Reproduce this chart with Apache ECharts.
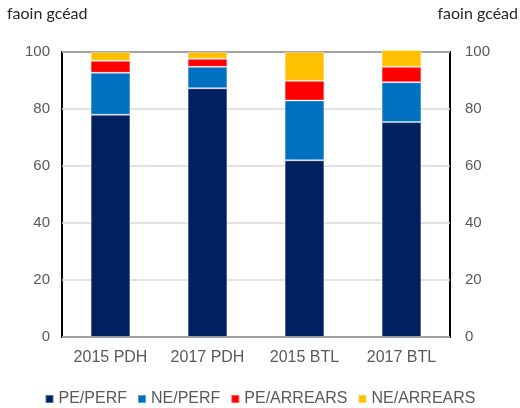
<!DOCTYPE html>
<html>
<head>
<meta charset="utf-8">
<script src="https://cdn.jsdelivr.net/npm/echarts@6/dist/echarts.min.js"></script>
<style>
  html, body { margin: 0; padding: 0; background: #fff; }
  #chart { width: 520px; height: 408px; }
</style>
</head>
<body>
<div id="chart"></div>
<script>
const categories = ['2015 PDH', '2017 PDH', '2015 BTL', '2017 BTL'];
const pePerf = [78, 87.3, 62, 75.4];
const nePerf = [14.7, 7.5, 21, 14];
const peArrears = [4.2, 2.8, 6.9, 5.4];
const neArrears = [3.1, 2.4, 10.1, 5.9];
const yTicks = [0, 20, 40, 60, 80, 100];
const unitLabel = 'faoin gcéad';

const font = 'Liberation Sans, Arial, sans-serif';
const xFont = { color: '#595959', fontSize: 16, fontFamily: font };
const yFont = { color: '#595959', fontSize: 15, fontFamily: font };

const mkSeries = (name, data, color) => ({
  name,
  type: 'bar',
  stack: 'total',
  data,
  barWidth: '41%',
  clip: false,
  itemStyle: { color, borderColor: 'rgba(255,255,255,0.35)', borderWidth: 1 }
});

const yAxisBase = {
  type: 'value',
  min: yTicks[0],
  max: yTicks[yTicks.length - 1],
  interval: 20,
  axisLine: { show: false },
  axisTick: { show: false }
};

let option = {
  animation: false,
  grid: {
    left: 62, right: 70, top: 52, bottom: 71,
    show: true, borderColor: '#000', borderWidth: 2, backgroundColor: 'transparent'
  },
  graphic: [
    { type: 'text', left: 7, top: 6, style: { text: unitLabel, fill: '#262626', font: '16px Lato, sans-serif' } },
    { type: 'text', right: 2, top: 6, style: { text: unitLabel, fill: '#262626', font: '16px Lato, sans-serif' } }
  ],
  legend: {
    bottom: 1,
    left: 'center',
    padding: 0,
    icon: 'rect',
    itemWidth: 8,
    itemHeight: 8,
    itemGap: 10,
    textStyle: xFont
  },
  xAxis: {
    type: 'category',
    data: categories,
    axisLine: { show: false },
    axisTick: { show: false },
    axisLabel: Object.assign({ margin: 13 }, xFont)
  },
  yAxis: [
    Object.assign({}, yAxisBase, {
      position: 'left',
      splitLine: { show: true, lineStyle: { color: '#d9d9d9', width: 1.5 } },
      axisLabel: Object.assign({ margin: 12 }, yFont)
    }),
    Object.assign({}, yAxisBase, {
      position: 'right',
      splitLine: { show: false },
      axisLabel: Object.assign({ margin: 15 }, yFont)
    })
  ],
  series: [
    mkSeries('PE/PERF', pePerf, '#002060'),
    mkSeries('NE/PERF', nePerf, '#0070C0'),
    mkSeries('PE/ARREARS', peArrears, '#FF0000'),
    mkSeries('NE/ARREARS', neArrears, '#FFC000')
  ]
};

echarts.init(document.getElementById('chart')).setOption(option);
</script>
</body>
</html>
